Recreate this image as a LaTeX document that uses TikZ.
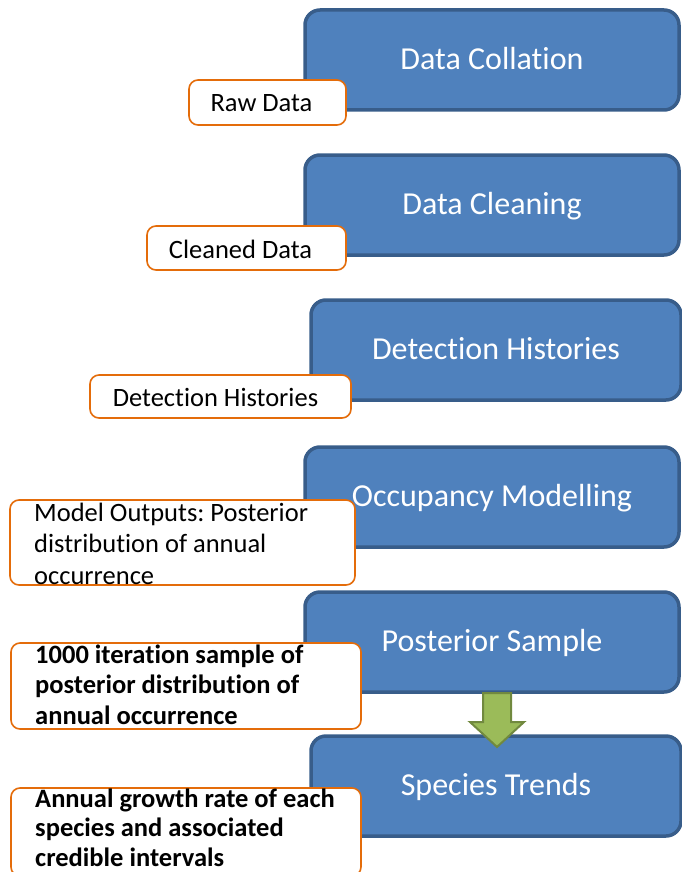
\documentclass[tikz,border=0pt]{standalone}
\usepackage{fontspec}
\setmainfont[Ligatures={NoCommon}]{Carlito}
\frenchspacing
\begin{document}
\begin{tikzpicture}[x=1pt,y=-1pt,
  stage/.style={draw=stageline, fill=stagefill, line width=3.5pt, rounded corners=15pt,
    text=white, font=\fontsize{32}{36}\selectfont, text depth=3pt},
  note/.style={draw=noteline, fill=white, line width=1.6pt, rounded corners=9pt},
  shortnote/.style={font=\fontsize{26.5}{30}\selectfont, text depth=0pt},
  notetext/.style={anchor=base west, align=left, inner sep=0pt,
    font=\fontsize{26.5}{30.5}\selectfont},
  flow/.style={draw=flowline, fill=flowfill, line width=2pt, line join=miter}]
\definecolor{stagefill}{HTML}{4F81BD}
\definecolor{stageline}{HTML}{385D8A}
\definecolor{noteline}{HTML}{E46C0A}
\definecolor{flowfill}{HTML}{9BBB59}
\definecolor{flowline}{HTML}{71893F}
\useasboundingbox (0,0) rectangle (682,872);

% process stages
\node[stage, minimum width=374pt, minimum height=100pt] (collate) at (492,60) {Data Collation};
\node[stage, minimum width=374pt, minimum height=100pt] (clean) at (492,205) {Data Cleaning};
\node[stage, minimum width=370pt, minimum height=100pt] (detect) at (496,350) {Detection Histories};
\node[stage, minimum width=374pt, minimum height=100pt] (occ) at (492,497) {Occupancy Modelling};
\node[stage, minimum width=374pt, minimum height=100pt] (post) at (492,642) {Posterior Sample};
\node[stage, minimum width=370pt, minimum height=100pt] (trend) at (496,786) {Species Trends};

% block arrow between the last two stages
\path[flow] (483,693) -- (511,693) -- (511,722) -- (524,722) -- (497,747)
  -- (470,722) -- (483,722) -- cycle;

% outputs of each stage
\node[note, minimum width=157pt, minimum height=45pt] (raw) at (267.5,102.5) {};
\node[shortnote] (rawtext) at (261.5,103) {Raw Data};
\node[note, minimum width=199pt, minimum height=44pt] (cleaned) at (246.5,248) {};
\node[shortnote] (cleanedtext) at (240.5,249) {Cleaned Data};
\node[note, minimum width=261pt, minimum height=43pt] (dethist) at (220.5,396.5) {};
\node[shortnote] (dethisttext) at (215.5,397) {Detection Histories};

\node[note, minimum width=345pt, minimum height=85pt] (model) at (182.5,542.5) {};
\node[notetext, font=\fontsize{26.5}{31.5}\selectfont] (modeltext) at (34,584) {Model Outputs: Posterior\\distribution of annual\\occurrence};

\node[note, minimum width=350pt, minimum height=86pt] (sample) at (186,686) {};
\node[notetext, font=\bfseries\fontsize{26.5}{30.5}\selectfont] (sampletext) at (35,724) {1000 iteration sample of\\posterior distribution of\\annual occurrence};

\node[note, minimum width=350pt, minimum height=88pt] (growth) at (186,832) {};
\node[notetext, font=\bfseries\fontsize{26.5}{29.5}\selectfont, text depth=0pt] (growthtext) at (35,866) {Annual growth rate of each\\species and associated\\credible intervals};
\end{tikzpicture}
\end{document}
